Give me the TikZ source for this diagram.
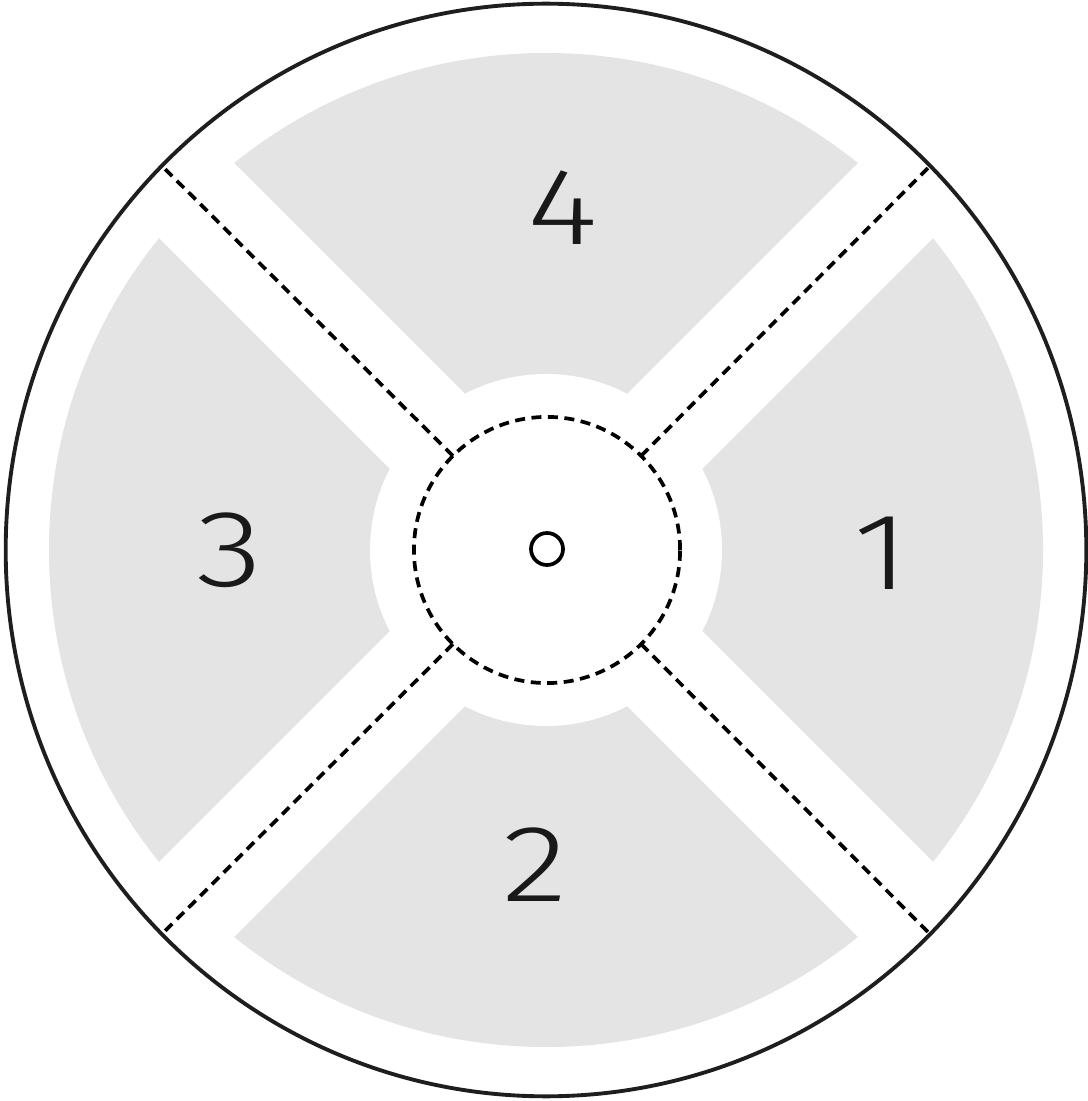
\documentclass[tikz,border=0pt]{standalone}
\usepackage{fontspec}
\setmainfont{Fira Sans}[UprightFont=* Light]
\usepackage{tikz}
\usetikzlibrary{shapes.geometric}
\definecolor{SectorGray}{HTML}{E4E4E4}
\definecolor{RimInk}{HTML}{1E1E1E}
\newcommand\widedigit[1]{\scalebox{1.25}[1]{#1}}

\begin{document}
\begin{tikzpicture}[
  x=0.01cm,y=-0.01cm,
  rimline/.style={draw=RimInk,line width=1.1pt,ellipse,inner sep=0pt,outer sep=0pt,
                  minimum width=10.8cm,minimum height=10.92cm},
  hubline/.style={draw=black,line width=1.05pt,dash pattern=on 0.1cm off 0.065cm,circle,
                  inner sep=0pt,outer sep=0pt,minimum size=2.66cm},
  pivotline/.style={draw=black,line width=1.05pt,circle,inner sep=0pt,minimum size=0.32cm},
  divider/.style={draw=black,line width=1.05pt,dash pattern=on 0.1cm off 0.065cm},
  gapband/.style={draw=white,line width=1.06cm},
  sectorlabel/.style={font=\fontsize{31}{36}\selectfont,text=black!90}
]
\useasboundingbox (0,0) rectangle (1087,1101);
% grey sectors: disc, cut by centre disc and diagonal bands
\fill[SectorGray] (546,550) circle (497);
\fill[white] (546,550) circle (176);
\foreach \a in {45,135,225,315}{\draw[gapband] (546,550) -- ++(\a:600);}
\node[rimline] (rim) at (546,550) {};
\node[hubline] (hub) at (547,550) {};
\node[pivotline] (pivot) at (547,549) {};
\foreach \a in {45,135,225,315}{\draw[divider] (hub.\a) -- (rim.\a);}
\node[sectorlabel] (l1) at (882,553) {\widedigit{1}};
\node[sectorlabel] (l2) at (535,865) {\widedigit{2}};
\node[sectorlabel] (l3) at (230,550) {\widedigit{3}};
\node[sectorlabel] (l4) at (563,208) {\widedigit{4}};
\end{tikzpicture}
\end{document}
